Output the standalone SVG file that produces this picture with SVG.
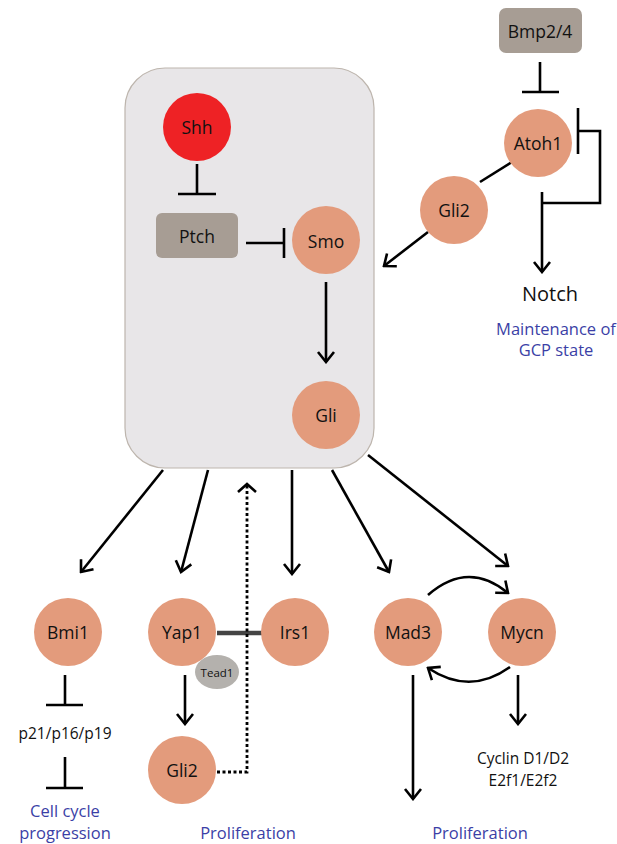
<svg xmlns="http://www.w3.org/2000/svg" width="617" height="844" viewBox="0 0 617 844">
<style>
.node{fill:#e39b7c}
.lbl{font-family:"Open Sans","Liberation Sans",sans-serif;font-size:17.5px;fill:#111;text-anchor:middle;dominant-baseline:central}
.blue{font-family:"Open Sans","Liberation Sans",sans-serif;font-size:16.5px;fill:#3b3fa6;text-anchor:middle;dominant-baseline:central}
.txt{font-family:"Open Sans","Liberation Sans",sans-serif;font-size:15.5px;fill:#111;text-anchor:middle;dominant-baseline:central}
.rect{fill:#a79d94}
.ln{stroke:#000;stroke-width:2.6;fill:none}
.arr{stroke:#000;stroke-width:2.6;fill:none;marker-end:url(#ah)}
</style>
<defs>
<marker id="ah" markerUnits="userSpaceOnUse" viewBox="-12 -10 14 20" refX="0" refY="0" markerWidth="14" markerHeight="20" orient="auto">
<path d="M-10,-8 L0,0 L-10,8" fill="none" stroke="#000" stroke-width="2.6"/>
</marker>
</defs>
<rect width="617" height="844" fill="#fff"/>
<g id="pathway-box"><rect x="125" y="68" width="249" height="400" rx="40" fill="#e8e6e8" stroke="#bdb5ad" stroke-width="1.2"/></g>
<g id="connectors">
<path class="ln" d="M197,164 V194 M178,194 H216"/>
<path class="ln" d="M246,243 H284 M284,228 V258"/>
<path class="arr" d="M326,282 V362"/>
<path class="ln" d="M540,62 V92 M522,92 H559"/>
<path class="ln" d="M578,108 V154 M578,131 H600 V203 H542"/>
<path class="arr" d="M542,192 V272"/>
<path class="ln" d="M512,162 L480,182"/>
<path class="arr" d="M428,232 L384,266"/>
<path class="arr" d="M163,470 L81,572"/>
<path class="arr" d="M208,470 L181,572"/>
<path class="arr" d="M292,470 V574"/>
<path class="arr" d="M332,470 L389,572"/>
<path class="arr" d="M368,455 L508,566"/>
<path d="M217,633 H262" fill="none" stroke="#444" stroke-width="4.5"/>
<path class="arr" d="M185,675 V724"/>
<path d="M217,772 H247 V485" fill="none" stroke="#000" stroke-width="2.8" stroke-dasharray="3,2.5"/>
<path class="ln" d="M238,492 L247,484 L256,492"/>
<path class="ln" d="M65,675 V705 M46,705 H83"/>
<path class="ln" d="M65,757 V788 M46,788 H83"/>
<path class="arr" d="M428,595 Q468,560 508,593"/>
<path class="arr" d="M510,667 Q470,696 428,668"/>
<path class="arr" d="M413,675 V799"/>
<path class="arr" d="M518,675 V724"/>
</g>
<g id="Shh"><circle cx="197" cy="127" r="34" fill="#ee2225"/><text class="lbl" x="197" y="127">Shh</text></g>
<g id="Ptch"><rect class="rect" x="156" y="213" width="82" height="45" rx="6"/><text class="lbl" x="197" y="236">Ptch</text></g>
<g id="Smo"><circle class="node" cx="326" cy="240" r="34"/><text class="lbl" x="326" y="241">Smo</text></g>
<g id="Gli"><circle class="node" cx="326" cy="415" r="34"/><text class="lbl" x="326" y="415">Gli</text></g>
<g id="Bmp24"><rect class="rect" x="499" y="8" width="83" height="45" rx="7"/><text class="lbl" x="540" y="31">Bmp2/4</text></g>
<g id="Atoh1"><circle class="node" cx="538" cy="143" r="34"/><text class="lbl" x="538" y="143">Atoh1</text></g>
<g id="Gli2-top"><circle class="node" cx="454" cy="210" r="34"/><text class="lbl" x="454" y="210">Gli2</text></g>
<g id="Notch"><text class="lbl" x="550" y="293" style="font-size:20px">Notch</text></g>
<g id="GCP"><text class="blue" x="556" y="328">Maintenance of</text><text class="blue" x="556" y="349">GCP state</text></g>
<g id="Bmi1"><circle class="node" cx="68" cy="632" r="34"/><text class="lbl" x="68" y="632">Bmi1</text></g>
<g id="Yap1"><circle class="node" cx="182" cy="632" r="34"/><text class="lbl" x="182" y="632">Yap1</text></g>
<g id="Tead1"><ellipse cx="217" cy="672" rx="22" ry="17" fill="#b4b1ad"/><text class="lbl" x="217" y="672" style="font-size:11.5px">Tead1</text></g>
<g id="Irs1"><circle class="node" cx="295" cy="632" r="34"/><text class="lbl" x="295" y="632">Irs1</text></g>
<g id="Gli2-bottom"><circle class="node" cx="182" cy="770" r="34"/><text class="lbl" x="182" y="770">Gli2</text></g>
<g id="p21"><text class="txt" x="65" y="733">p21/p16/p19</text></g>
<g id="CellCycle"><text class="blue" x="65" y="810">Cell cycle</text><text class="blue" x="65" y="832">progression</text></g>
<g id="Prolif1"><text class="blue" x="248" y="832">Proliferation</text></g>
<g id="Mad3"><circle class="node" cx="408" cy="632" r="34"/><text class="lbl" x="408" y="632">Mad3</text></g>
<g id="Mycn"><circle class="node" cx="522" cy="632" r="34"/><text class="lbl" x="522" y="632">Mycn</text></g>
<g id="Cyclin"><text class="txt" x="523" y="758">Cyclin D1/D2</text><text class="txt" x="523" y="780">E2f1/E2f2</text></g>
<g id="Prolif2"><text class="blue" x="480" y="832">Proliferation</text></g>
</svg>
